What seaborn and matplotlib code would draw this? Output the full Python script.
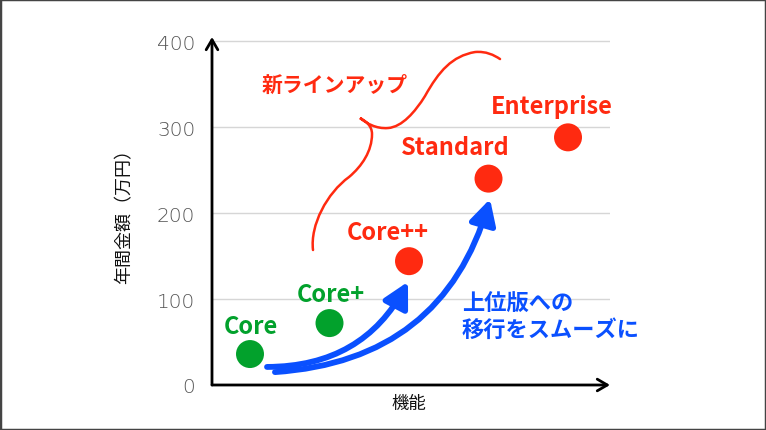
import matplotlib
matplotlib.use("Agg")
import matplotlib.pyplot as plt
import seaborn as sns
import pandas as pd
from matplotlib.path import Path
from matplotlib.patches import PathPatch, Rectangle

# ---------------- data ----------------
products = ["Core", "Core+", "Core++", "Standard", "Enterprise"]
feature_level = [1, 2, 3, 4, 5]
annual_cost = [36, 72, 144, 240, 288]
lineup = ["current", "current", "new", "new", "new"]
y_ticks = [0, 100, 200, 300, 400]
y_label = "年間金額（万円）"
x_label = "機能"
new_lineup_text = "新ラインアップ"
migration_text = "上位版への\n移行をスムーズに"

# ---------------- style ----------------
GREEN = "#02A12C"
RED = "#FF2A10"
BLUE = "#0A50FF"
label_offsets = [(0.7, 15), (0.7, 16), (-15, 16), (-24, 17.5), (-12, 17.5)]

sns.set_theme(style="white")
plt.rcParams["font.family"] = ["Noto Sans CJK JP", "DejaVu Sans"]

fig = plt.figure(figsize=(7.66, 4.31), dpi=100)
ax = fig.add_axes([212 / 766, 45 / 431, 398 / 766, 348 / 431])

df = pd.DataFrame({"product": products, "feature_level": feature_level,
                   "annual_cost": annual_cost, "lineup": lineup})
sns.scatterplot(data=df, x="feature_level", y="annual_cost", hue="lineup",
                palette={"current": GREEN, "new": RED}, s=406, linewidth=0,
                legend=False, ax=ax, zorder=4)

ax.set_xlim(0.522, 5.528)
ax.set_ylim(0, 404.7)
ax.set_xticks([])
ax.set_yticks(y_ticks)
ax.tick_params(axis="y", length=0, pad=12, labelcolor="#555555")
for t in ax.get_yticklabels():
    t.set_fontfamily("DejaVu Sans")
    t.set_fontweight("light")
    t.set_fontsize(14.5)
ax.grid(axis="y", color="#d6d6d6", lw=1)
ax.set_axisbelow(True)
for s in ax.spines.values():
    s.set_visible(False)

# axis arrows
axis_arrow = dict(arrowstyle="->,head_length=0.6,head_width=0.35", lw=2,
                  color="black", shrinkA=0, shrinkB=0)
ax.annotate("", xy=(0, 1), xytext=(0, 0), xycoords="axes fraction",
            arrowprops=axis_arrow, annotation_clip=False)
ax.annotate("", xy=(1, 0), xytext=(0, 0), xycoords="axes fraction",
            arrowprops=axis_arrow, annotation_clip=False)

ax.set_ylabel(y_label, fontsize=13, color="#111111", va="center")
ax.yaxis.set_label_coords(-0.221, 0.4986)
ax.set_xlabel(x_label, fontsize=12.5, color="#111111", va="center")
ax.xaxis.set_label_coords(0.495, -0.053)

# point labels
colors = {"current": GREEN, "new": RED}
for i, name in enumerate(products):
    ax.annotate(name, xy=(feature_level[i], annual_cost[i]),
                xytext=label_offsets[i], textcoords="offset points",
                ha="center", va="baseline", fontsize=17, fontweight="bold",
                color=colors[lineup[i]], zorder=5)

# decorative brace separating the new lineup (data coordinates)
brace_verts = [
    (1.7925, 156.98), (1.7547, 186.05), (1.9686, 223.26), (2.2453, 241.86),
    (2.4088, 254.65), (2.5346, 272.09), (2.5346, 291.86),
    (2.5346, 301.16), (2.4591, 306.98), (2.3836, 310.47),
    (2.4591, 304.65), (2.5849, 297.67), (2.7358, 298.84),
    (2.9119, 300.00), (3.0755, 317.44), (3.2013, 336.05),
    (3.3774, 365.12), (3.5409, 382.56), (3.8302, 387.21),
    (3.9686, 388.37), (4.0692, 383.72), (4.1447, 379.07),
]
codes = [Path.MOVETO] + [Path.CURVE4] * (len(brace_verts) - 1)
ax.add_patch(PathPatch(Path(brace_verts, codes), facecolor="none",
                       edgecolor=RED, lw=1.8, capstyle="round", zorder=3))

ax.text(2.069, 350, new_lineup_text, ha="center", va="center", fontsize=15,
        fontweight="bold", color=RED)
ax.text(3.667, 79.7, migration_text, ha="left", va="center", fontsize=16,
        fontweight="bold", color=BLUE, linespacing=1.15)

# migration arrows
arrow_style = "-|>,head_length=0.75,head_width=0.4"
ax.annotate("", xy=(feature_level[2] - 0.013, annual_cost[2] - 24),
            xytext=(feature_level[0] + 0.214, annual_cost[0] - 15),
            arrowprops=dict(arrowstyle=arrow_style, connectionstyle="arc3,rad=0.3",
                            lw=4.2, color=BLUE, shrinkA=0, shrinkB=0,
                            mutation_scale=20), zorder=3)
ax.annotate("", xy=(feature_level[3] + 0.019, annual_cost[3] - 23.7),
            xytext=(feature_level[0] + 0.314, annual_cost[0] - 21),
            arrowprops=dict(arrowstyle=arrow_style, connectionstyle="arc3,rad=0.35",
                            lw=4.2, color=BLUE, shrinkA=0, shrinkB=0,
                            mutation_scale=20), zorder=3)

fig.add_artist(Rectangle((0, 0), 1, 1, transform=fig.transFigure, fill=False,
                         edgecolor="#444444", lw=2.5, clip_on=False))

fig.savefig("out.png", dpi=100)
